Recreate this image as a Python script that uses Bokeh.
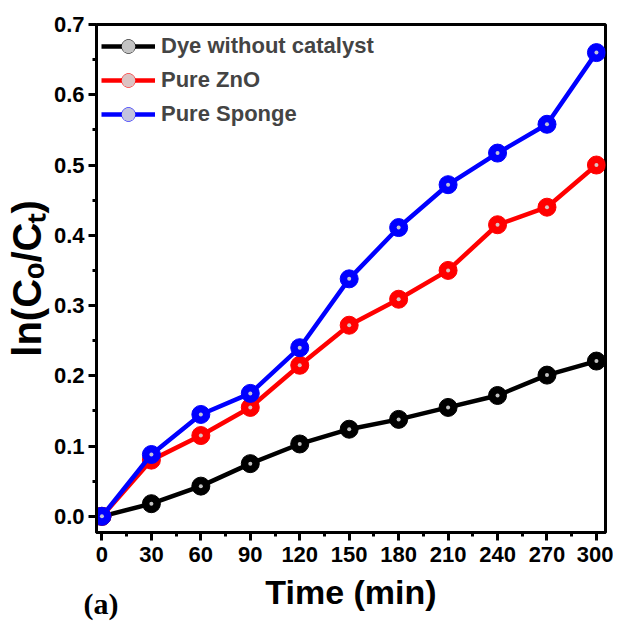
from bokeh.plotting import figure
from bokeh.models import FixedTicker, PrintfTickFormatter, Title, Legend, LegendItem
from bokeh.embed import file_html
from bokeh.resources import INLINE

time_min = [0, 30, 60, 90, 120, 150, 180, 210, 240, 270, 300]
dye = [0.0, 0.018, 0.043, 0.075, 0.103, 0.124, 0.138, 0.155, 0.172, 0.201, 0.221]
zno = [0.0, 0.080, 0.115, 0.155, 0.215, 0.272, 0.309, 0.350, 0.415, 0.440, 0.500]
sponge = [0.0, 0.088, 0.145, 0.175, 0.240, 0.338, 0.411, 0.472, 0.517, 0.558, 0.660]
series_names = ["Dye without catalyst", "Pure ZnO", "Pure Sponge"]
series_colors = ["#000000", "#ff0000", "#0000ff"]
x_ticks = [0, 30, 60, 90, 120, 150, 180, 210, 240, 270, 300]
y_ticks = [0.0, 0.1, 0.2, 0.3, 0.4, 0.5, 0.6, 0.7]

FONT = "Liberation Sans"

p = figure(frame_width=509, frame_height=508, output_backend="svg", toolbar_location=None,
           x_range=(-3.3, 305.5), y_range=(-0.023, 0.7),
           min_border_left=96, min_border_top=24, min_border_right=8, min_border_bottom=92)
p.background_fill_color = "white"
p.border_fill_color = "white"
p.grid.visible = False
p.outline_line_color = "black"
p.outline_line_width = 3

items = []
for name, ys, col in zip(series_names, [dye, zno, sponge], series_colors):
    r1 = p.line(time_min, ys, line_color=col, line_width=4.5)
    r2 = p.scatter(time_min, ys, size=18, fill_color=col, line_color=col)
    r3 = p.scatter(time_min, ys, size=4, fill_color="#d8d8d8", line_color=None, fill_alpha=0.9)
    items.append(LegendItem(label=name, renderers=[r1, r2, r3]))

legend = Legend(items=items, location="top_left")
legend.border_line_color = None
legend.background_fill_alpha = 0
legend.margin = 5
legend.padding = 0
legend.spacing = 0
legend.glyph_width = 54
legend.glyph_height = 34
legend.label_height = 34
legend.label_standoff = 6
legend.label_text_font = FONT
legend.label_text_font_style = "bold"
legend.label_text_font_size = "22px"
p.add_layout(legend)

for ax in (p.xaxis[0], p.yaxis[0]):
    ax.axis_line_width = 3
    ax.major_tick_line_width = 3
    ax.minor_tick_line_width = 3
    ax.major_tick_in = 0
    ax.major_tick_out = 8
    ax.minor_tick_in = 0
    ax.minor_tick_out = 4
    ax.major_label_text_font = FONT
    ax.major_label_text_font_style = "bold"
    ax.major_label_text_color = "black"
    ax.axis_label_text_font = FONT
    ax.axis_label_text_font_style = "bold"
    ax.axis_label_text_color = "black"

p.xaxis.ticker = FixedTicker(ticks=x_ticks, minor_ticks=[15 + 30 * i for i in range(10)])
p.yaxis.ticker = FixedTicker(ticks=y_ticks, minor_ticks=[0.05 + 0.1 * i for i in range(7)])
p.yaxis.formatter = PrintfTickFormatter(format="%.1f")
p.xaxis.major_label_text_font_size = "22px"
p.yaxis.major_label_text_font_size = "22px"
p.xaxis.major_label_standoff = 6
p.yaxis.major_label_standoff = 4

p.xaxis.axis_label = "Time (min)"
p.xaxis.axis_label_text_font_size = "34px"
p.xaxis.axis_label_standoff = 8

p.yaxis.axis_label = "ln(C\u2092/C\u209c)"
p.yaxis.axis_label_text_font_size = "40px"
p.yaxis.axis_label_standoff = 2

tag = Title(text="(a)", align="left", vertical_align="top", offset=-13, standoff=-54,
            text_font="Liberation Serif", text_font_style="bold", text_font_size="30px",
            text_color="black")
p.add_layout(tag, "below")

open("out.html", "w").write(file_html(p, INLINE))
